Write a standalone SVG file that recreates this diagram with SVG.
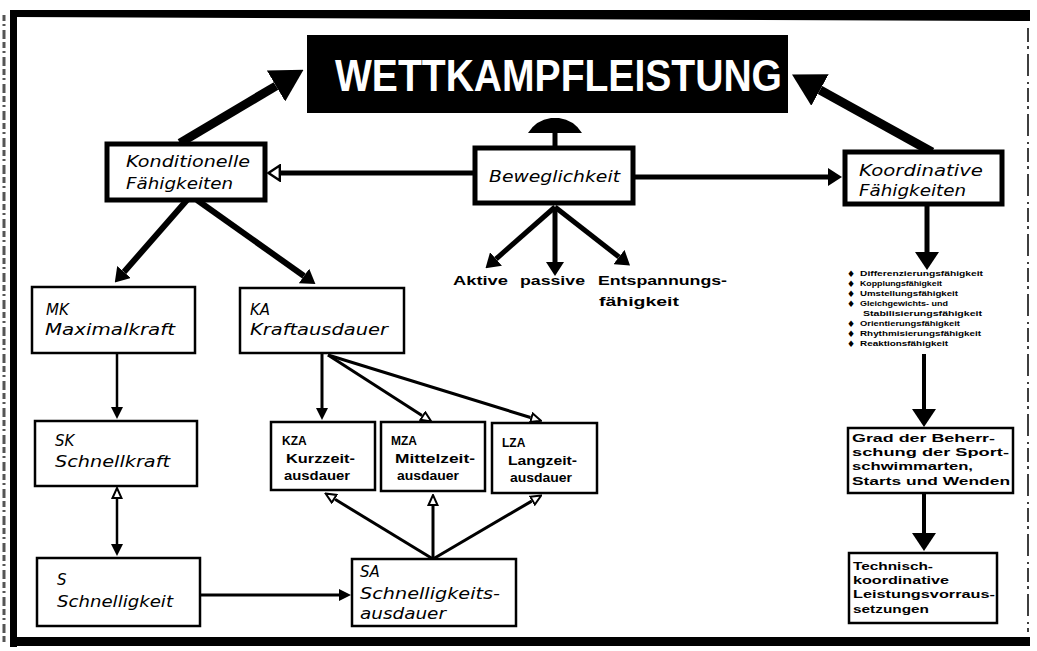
<svg xmlns="http://www.w3.org/2000/svg" width="1037" height="651" viewBox="0 0 1037 651">
<style>
.bx{fill:#fff;stroke:#000;stroke-width:2.5}
.bxt{fill:#fff;stroke:#000;stroke-width:5}
.it{font-family:"DejaVu Sans",sans-serif;font-style:italic;font-size:15px;fill:#000}
.bd{font-family:"Liberation Sans",Arial,sans-serif;font-weight:bold;font-size:12px;fill:#000}
.sm{font-family:"Liberation Sans",Arial,sans-serif;font-weight:bold;font-size:8px;fill:#000}
.bl{font-family:"DejaVu Sans",sans-serif;font-size:9px;fill:#000}
.rc{font-family:"Liberation Sans",Arial,sans-serif;font-weight:bold;font-size:11.5px;fill:#000}
.ln{fill:none;stroke:#000;stroke-linecap:butt}
.t1{stroke-width:2.5}
.t5{stroke-width:5}
.t6{stroke-width:6}
.t9{stroke-width:9}
</style>
<defs>
<marker id="fs" viewBox="0 0 12 12" refX="0" refY="6" markerWidth="12" markerHeight="12" markerUnits="userSpaceOnUse" orient="auto"><path d="M0,0 L12,6 L0,12 z" fill="#000"/></marker>
<marker id="os" viewBox="0 0 12 12" refX="0" refY="6" markerWidth="12" markerHeight="12" markerUnits="userSpaceOnUse" orient="auto-start-reverse"><path d="M1,1.5 L11,6 L1,10.5 z" fill="#fff" stroke="#000" stroke-width="2"/></marker>
<marker id="om" viewBox="0 0 14 18" refX="0" refY="9" markerWidth="14" markerHeight="18" markerUnits="userSpaceOnUse" orient="auto"><path d="M1.2,1.5 L12.5,9 L1.2,16.5 z" fill="#fff" stroke="#000" stroke-width="2.4"/></marker>
<marker id="mh" viewBox="0 0 14 18" refX="0" refY="9" markerWidth="14" markerHeight="18" markerUnits="userSpaceOnUse" orient="auto"><path d="M0,0 L14,9 L0,18 z" fill="#000"/></marker>
<marker id="lh" viewBox="0 0 18 24" refX="0" refY="12" markerWidth="18" markerHeight="24" markerUnits="userSpaceOnUse" orient="auto"><path d="M0,0 L18,12 L0,24 z" fill="#000"/></marker>
<marker id="bh" viewBox="0 0 32 36" refX="0" refY="18" markerWidth="32" markerHeight="36" markerUnits="userSpaceOnUse" orient="auto"><path d="M0,0 L32,18 L0,36 z" fill="#000"/></marker>
</defs>
<rect x="0" y="0" width="1037" height="651" fill="#fff"/>
<g id="frame">
<path d="M15,10 L1030,10 L1030,21 L15,17 z" fill="#000"/>
<rect x="10" y="10" width="7" height="637" fill="#000"/>
<rect x="12" y="637" width="1018" height="9" fill="#000"/>
<line x1="4" y1="15" x2="4" y2="645" stroke="#555" stroke-width="3" stroke-dasharray="6 3 2 4 9 3"/>
<line x1="1028" y1="28" x2="1028" y2="632" stroke="#000" stroke-width="1.5" stroke-dasharray="14 4 3 5 22 6 2 4"/>
</g>
<g id="connectors">
<line class="ln t9" x1="180" y1="143" x2="276" y2="86" marker-end="url(#bh)"/>
<line class="ln t9" x1="932" y1="152" x2="820" y2="90" marker-end="url(#bh)"/>
<line class="ln" stroke-width="5" x1="555" y1="148" x2="555" y2="131"/>
<path d="M528,133 Q536,120 551,118 L559,118 Q574,120 582,133 z" fill="#000"/>
<line class="ln t5" x1="475" y1="173" x2="281" y2="173" marker-end="url(#om)"/>
<line class="ln t5" x1="633" y1="177" x2="828" y2="177" marker-end="url(#mh)"/>
<line class="ln t6" x1="187" y1="200" x2="124" y2="272" marker-end="url(#mh)"/>
<line class="ln t6" x1="197" y1="200" x2="304" y2="276" marker-end="url(#mh)"/>
<line class="ln t5" x1="555" y1="207" x2="496" y2="259" marker-end="url(#mh)"/>
<line class="ln t5" x1="555" y1="207" x2="555" y2="262" marker-end="url(#mh)"/>
<line class="ln t5" x1="555" y1="207" x2="619" y2="257" marker-end="url(#mh)"/>
<line class="ln t1" x1="117" y1="353" x2="117" y2="407" marker-end="url(#fs)"/>
<line class="ln t1" x1="117" y1="499" x2="117" y2="544" marker-start="url(#os)" marker-end="url(#fs)"/>
<line class="ln" stroke-width="3" x1="200" y1="595" x2="339" y2="595" marker-end="url(#fs)"/>
<line class="ln" stroke-width="3" x1="322" y1="353" x2="322" y2="408" marker-end="url(#fs)"/>
<line class="ln" stroke-width="3" x1="328" y1="355" x2="422" y2="415.5" marker-end="url(#os)"/>
<line class="ln" stroke-width="3" x1="328" y1="355" x2="530.5" y2="417.5" marker-end="url(#os)"/>
<line class="ln" stroke-width="3" x1="433" y1="559" x2="335" y2="499.3" marker-end="url(#os)"/>
<line class="ln" stroke-width="3" x1="433" y1="559" x2="433" y2="506" marker-end="url(#os)"/>
<line class="ln" stroke-width="3" x1="433" y1="559" x2="531.7" y2="501.1" marker-end="url(#os)"/>
<line class="ln t5" x1="927" y1="204" x2="927" y2="252" marker-end="url(#lh)"/>
<line class="ln" stroke-width="4" x1="924" y1="354" x2="924" y2="409" marker-end="url(#lh)"/>
<line class="ln" stroke-width="4" x1="924" y1="493" x2="924" y2="533" marker-end="url(#lh)"/>
</g>
<g id="wettkampfleistung">
<rect x="307" y="35" width="481" height="78" fill="#000"/>
<text x="335" y="91" font-family="'Liberation Sans',Arial,sans-serif" font-weight="bold" font-size="44" fill="#fff" textLength="447" lengthAdjust="spacingAndGlyphs">WETTKAMPFLEISTUNG</text>
</g>
<g id="konditionelle">
<rect class="bxt" x="107" y="144" width="158" height="56"/>
<text class="it" x="126" y="167" textLength="124" lengthAdjust="spacingAndGlyphs">Konditionelle</text>
<text class="it" x="126" y="189" textLength="107" lengthAdjust="spacingAndGlyphs">Fähigkeiten</text>
</g>
<g id="beweglichkeit">
<rect class="bxt" x="475" y="148" width="158" height="55"/>
<text class="it" x="489" y="182" textLength="131" lengthAdjust="spacingAndGlyphs">Beweglichkeit</text>
</g>
<g id="koordinative">
<rect class="bxt" x="845" y="152" width="157" height="52"/>
<text class="it" x="859" y="176" textLength="124" lengthAdjust="spacingAndGlyphs">Koordinative</text>
<text class="it" x="859" y="196" textLength="107" lengthAdjust="spacingAndGlyphs">Fähigkeiten</text>
</g>
<g id="beweglichkeit-arten">
<text class="bd" font-size="13" x="453" y="285" textLength="55" lengthAdjust="spacingAndGlyphs">Aktive</text>
<text class="bd" font-size="13" x="520" y="285" textLength="65" lengthAdjust="spacingAndGlyphs">passive</text>
<text class="bd" font-size="13" x="598" y="285" textLength="129" lengthAdjust="spacingAndGlyphs">Entspannungs-</text>
<text class="bd" font-size="13" x="599" y="306" textLength="80" lengthAdjust="spacingAndGlyphs">fähigkeit</text>
</g>
<g id="mk">
<rect class="bx" x="32" y="287" width="163" height="66"/>
<text class="it" x="46" y="315">MK</text>
<text class="it" x="45" y="335" textLength="130" lengthAdjust="spacingAndGlyphs">Maximalkraft</text>
</g>
<g id="ka">
<rect class="bx" x="240" y="288" width="164" height="65"/>
<text class="it" x="250" y="315">KA</text>
<text class="it" x="250" y="335" textLength="138" lengthAdjust="spacingAndGlyphs">Kraftausdauer</text>
</g>
<g id="sk">
<rect class="bx" x="35" y="421" width="162" height="65"/>
<text class="it" x="55" y="446">SK</text>
<text class="it" x="55" y="467" textLength="115" lengthAdjust="spacingAndGlyphs">Schnellkraft</text>
</g>
<g id="s">
<rect class="bx" x="37" y="558" width="163" height="68"/>
<text class="it" x="57" y="585">S</text>
<text class="it" x="57" y="607" textLength="116" lengthAdjust="spacingAndGlyphs">Schnelligkeit</text>
</g>
<g id="sa">
<rect class="bx" x="352" y="559" width="164" height="67"/>
<text class="it" x="360" y="577">SA</text>
<text class="it" x="360" y="599" textLength="140" lengthAdjust="spacingAndGlyphs">Schnelligkeits-</text>
<text class="it" x="360" y="619" textLength="86" lengthAdjust="spacingAndGlyphs">ausdauer</text>
</g>
<g id="kza">
<rect class="bx" x="271" y="422" width="104" height="68"/>
<text class="bd" x="282" y="445">KZA</text>
<text class="bd" x="286" y="463" textLength="69" lengthAdjust="spacingAndGlyphs">Kurzzeit-</text>
<text class="bd" x="284" y="480" textLength="66" lengthAdjust="spacingAndGlyphs">ausdauer</text>
</g>
<g id="mza">
<rect class="bx" x="381" y="422" width="104" height="69"/>
<text class="bd" x="391" y="445">MZA</text>
<text class="bd" x="395" y="463" textLength="80" lengthAdjust="spacingAndGlyphs">Mittelzeit-</text>
<text class="bd" x="397" y="480" textLength="62" lengthAdjust="spacingAndGlyphs">ausdauer</text>
</g>
<g id="lza">
<rect class="bx" x="492" y="423" width="105" height="70"/>
<text class="bd" x="502" y="447">LZA</text>
<text class="bd" x="508" y="465" textLength="69" lengthAdjust="spacingAndGlyphs">Langzeit-</text>
<text class="bd" x="510" y="482" textLength="62" lengthAdjust="spacingAndGlyphs">ausdauer</text>
</g>
<g id="fahigkeiten-liste">
<text class="bl" x="847" y="277">♦</text><text class="sm" x="860" y="276" textLength="123" lengthAdjust="spacingAndGlyphs">Differenzierungsfähigkeit</text>
<text class="bl" x="847" y="287">♦</text><text class="sm" x="860" y="286" textLength="82" lengthAdjust="spacingAndGlyphs">Kopplungsfähigkeit</text>
<text class="bl" x="847" y="297">♦</text><text class="sm" x="860" y="296" textLength="98" lengthAdjust="spacingAndGlyphs">Umstellungsfähigkeit</text>
<text class="bl" x="847" y="307">♦</text><text class="sm" x="860" y="306" textLength="88" lengthAdjust="spacingAndGlyphs">Gleichgewichts- und</text>
<text class="sm" x="863" y="316" textLength="119" lengthAdjust="spacingAndGlyphs">Stabilisierungsfähigkeit</text>
<text class="bl" x="847" y="327">♦</text><text class="sm" x="860" y="326" textLength="100" lengthAdjust="spacingAndGlyphs">Orientierungsfähigkeit</text>
<text class="bl" x="847" y="337">♦</text><text class="sm" x="860" y="336" textLength="121" lengthAdjust="spacingAndGlyphs">Rhythmisierungsfähigkeit</text>
<text class="bl" x="847" y="347">♦</text><text class="sm" x="860" y="346" textLength="88" lengthAdjust="spacingAndGlyphs">Reaktionsfähigkeit</text>
</g>
<g id="grad">
<rect class="bx" x="848" y="428" width="165" height="65"/>
<text class="rc" x="852" y="442" textLength="143" lengthAdjust="spacingAndGlyphs">Grad der Beherr-</text>
<text class="rc" x="852" y="456" textLength="157" lengthAdjust="spacingAndGlyphs">schung der Sport-</text>
<text class="rc" x="852" y="470" textLength="121" lengthAdjust="spacingAndGlyphs">schwimmarten,</text>
<text class="rc" x="852" y="485" textLength="158" lengthAdjust="spacingAndGlyphs">Starts und Wenden</text>
</g>
<g id="technisch">
<rect class="bx" x="849" y="553" width="148" height="70"/>
<text class="rc" x="853" y="570" textLength="80" lengthAdjust="spacingAndGlyphs">Technisch-</text>
<text class="rc" x="853" y="584" textLength="96" lengthAdjust="spacingAndGlyphs">koordinative</text>
<text class="rc" x="853" y="598" textLength="142" lengthAdjust="spacingAndGlyphs">Leistungsvorraus-</text>
<text class="rc" x="853" y="613" textLength="76" lengthAdjust="spacingAndGlyphs">setzungen</text>
</g>
</svg>
